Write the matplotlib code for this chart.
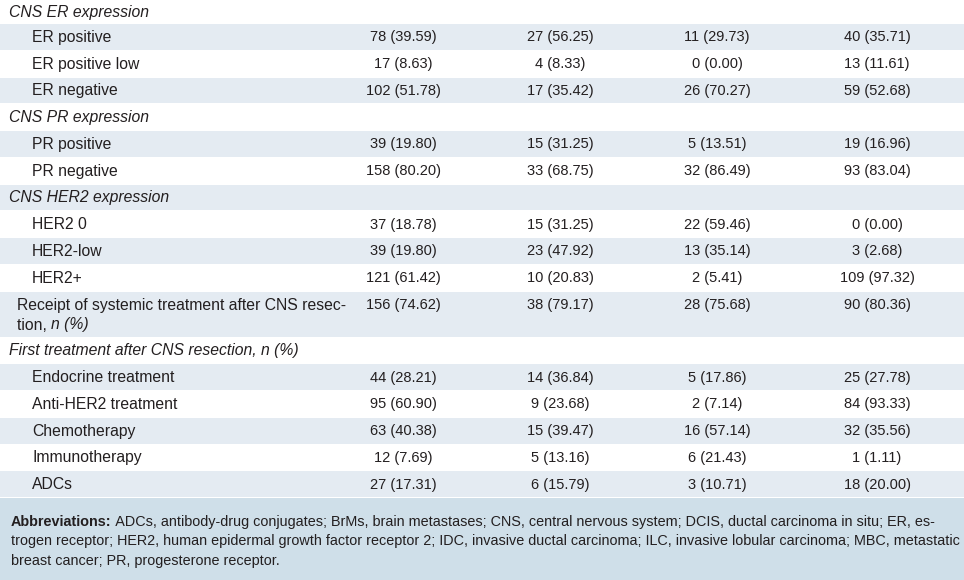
import matplotlib
matplotlib.use("Agg")
import matplotlib.pyplot as plt
from matplotlib import font_manager

# Table content
labels = [
    'CNS ER expression', 'ER positive', 'ER positive low', 'ER negative',
    'CNS PR expression', 'PR positive', 'PR negative',
    'CNS HER2 expression', 'HER2 0', 'HER2-low', 'HER2+',
    'Receipt of systemic treatment after CNS resec-',
    'First treatment after CNS resection, n (%)',
    'Endocrine treatment', 'Anti-HER2 treatment', 'Chemotherapy',
    'Immunotherapy', 'ADCs',
]
# h = italic section header, s = indented sub row, p = plain row
kinds = ['h', 's', 's', 's', 'h', 's', 's', 'h', 's', 's', 's',
         'p', 'h', 's', 's', 's', 's', 's']

col_a = ['', '78 (39.59)', '17 (8.63)', '102 (51.78)', '', '39 (19.80)', '158 (80.20)',
         '', '37 (18.78)', '39 (19.80)', '121 (61.42)', '156 (74.62)', '',
         '44 (28.21)', '95 (60.90)', '63 (40.38)', '12 (7.69)', '27 (17.31)']
col_b = ['', '27 (56.25)', '4 (8.33)', '17 (35.42)', '', '15 (31.25)', '33 (68.75)',
         '', '15 (31.25)', '23 (47.92)', '10 (20.83)', '38 (79.17)', '',
         '14 (36.84)', '9 (23.68)', '15 (39.47)', '5 (13.16)', '6 (15.79)']
col_c = ['', '11 (29.73)', '0 (0.00)', '26 (70.27)', '', '5 (13.51)', '32 (86.49)',
         '', '22 (59.46)', '13 (35.14)', '2 (5.41)', '28 (75.68)', '',
         '5 (17.86)', '2 (7.14)', '16 (57.14)', '6 (21.43)', '3 (10.71)']
col_d = ['', '40 (35.71)', '13 (11.61)', '59 (52.68)', '', '19 (16.96)', '93 (83.04)',
         '', '0 (0.00)', '3 (2.68)', '109 (97.32)', '90 (80.36)', '',
         '25 (27.78)', '84 (93.33)', '32 (35.56)', '1 (1.11)', '18 (20.00)']

footer_lines = [
    ' ADCs, antibody-drug conjugates; BrMs, brain metastases; CNS, central nervous system; DCIS, ductal carcinoma in situ; ER, es-',
    'trogen receptor; HER2, human epidermal growth factor receptor 2; IDC, invasive ductal carcinoma; ILC, invasive lobular carcinoma; MBC, metastatic',
    'breast cancer; PR, progesterone receptor.',
]

# Layout
W, H = 964, 580
TXT = '#231f20'
SHADE = '#e4ebf2'
FOOT_BG = '#cfdfe9'
col_x = [403, 560, 717, 877]
FS_LAB = 11.3
FS_NUM = 10.5

available = {f.name for f in font_manager.fontManager.ttflist}
body_font = 'Liberation Sans'
foot_font = 'Liberation Sans Narrow' if 'Liberation Sans Narrow' in available else 'Liberation Sans'

fig = plt.figure(figsize=(W / 100, H / 100), dpi=100)
ax = fig.add_axes([0, 0, 1, 1])
ax.set_xlim(0, W)
ax.set_ylim(H, 0)
ax.axis('off')


def right_edge(t):
    fig.canvas.draw()
    return t.get_window_extent().x1 * W / fig.bbox.width


heights = [24] + [26.75] * 10 + [46] + [26.75] * 6
top = 0.0
columns = [col_a, col_b, col_c, col_d]
for i, (lab, kind) in enumerate(zip(labels, kinds)):
    h = heights[i]
    bottom = top + h
    if i % 2 == 1:
        ax.axhspan(top, bottom - 0.8, color=SHADE, lw=0)
    yc = top + 14 if h > 30 else (top + bottom) / 2
    if kind == 'h':
        ax.text(9, yc, lab, fontsize=FS_LAB, style='italic', color=TXT,
                va='center', ha='left', family=body_font)
    elif kind == 's':
        ax.text(32, yc, lab, fontsize=FS_LAB, color=TXT, va='center', ha='left',
                family=body_font)
    else:
        ax.text(17, yc, lab, fontsize=FS_LAB, color=TXT, va='center', ha='left',
                family=body_font)
        # second line: "tion, n (%)" with the n (%) in italics
        t = ax.text(17, yc + 19.5, 'tion, ', fontsize=FS_LAB, color=TXT,
                    va='center', ha='left', family=body_font)
        ax.text(right_edge(t), yc + 19.5, 'n (%)', fontsize=FS_LAB, style='italic',
                color=TXT, va='center', ha='left', family=body_font)
    for cx, col in zip(col_x, columns):
        if col[i]:
            ax.text(cx, yc, col[i], fontsize=FS_NUM, color=TXT, va='center',
                    ha='center', family=body_font)
    top = bottom

# Footer block
ax.axhspan(top, H, color=FOOT_BG, lw=0)
fy = [522, 541.5, 560.5]
FFS = 10.35
t = ax.text(11, fy[0], 'Abbreviations:', fontsize=FFS, weight='bold', color=TXT,
            va='center', ha='left', family=foot_font)
ax.text(right_edge(t), fy[0], footer_lines[0], fontsize=FFS, color=TXT,
        va='center', ha='left', family=foot_font)
for y, line in zip(fy[1:], footer_lines[1:]):
    ax.text(11, y, line, fontsize=FFS, color=TXT, va='center', ha='left',
            family=foot_font)

fig.savefig('out.png', dpi=100)
